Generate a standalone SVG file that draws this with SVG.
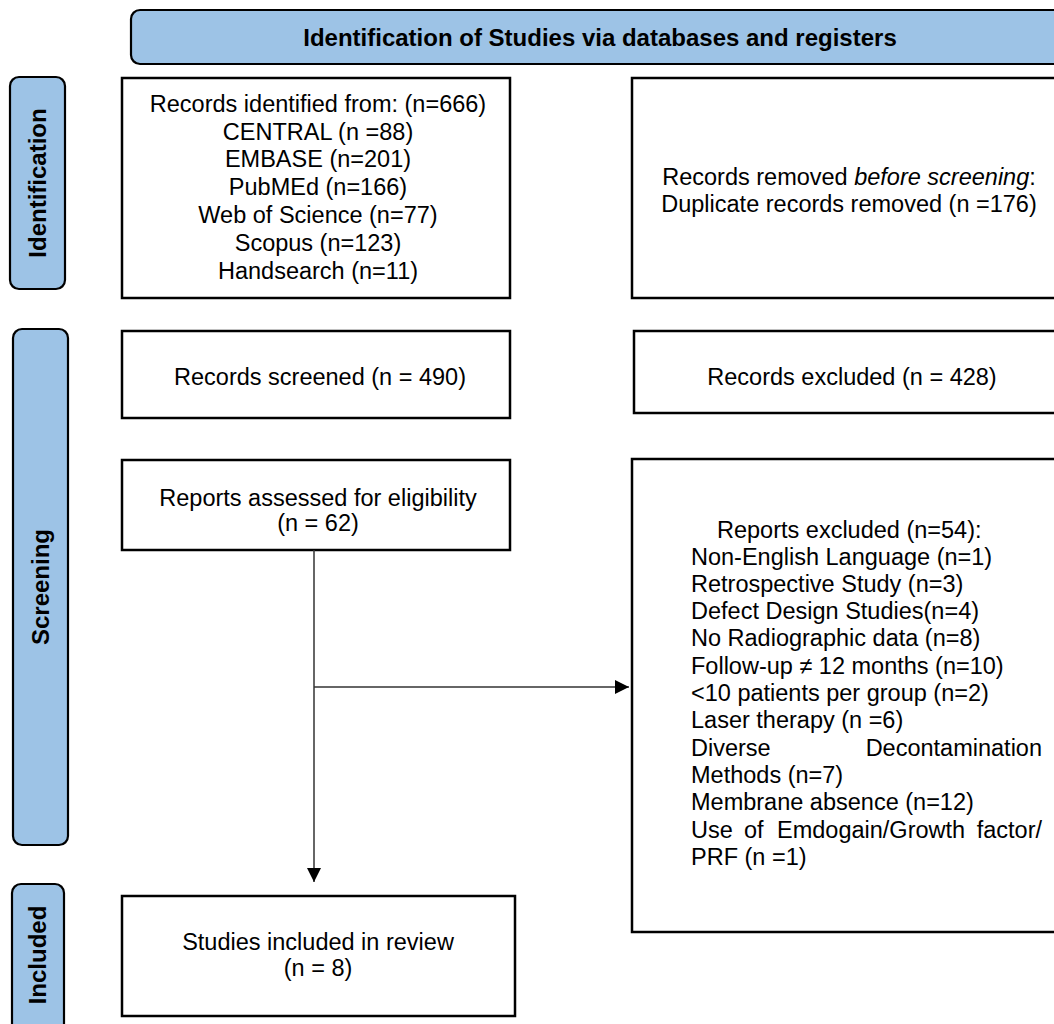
<svg xmlns="http://www.w3.org/2000/svg" width="1054" height="1024" viewBox="0 0 1054 1024">
<defs>
<style>
.lbl{fill:#9DC3E6;stroke:#000;stroke-width:2.2}
.box{fill:#fff;stroke:#000;stroke-width:2.5}
.t{font-family:"Liberation Sans",Arial,sans-serif;font-size:23.5px;fill:#000}
.b{font-family:"Liberation Sans",Arial,sans-serif;font-size:24px;font-weight:bold;fill:#000}
.c{text-anchor:middle}
.ln{stroke:#333;stroke-width:1.5;fill:none}
</style>
<marker id="ah" viewBox="0 0 10 10" refX="10" refY="5" markerWidth="16" markerHeight="14" markerUnits="userSpaceOnUse" orient="auto">
<path d="M0,0 L10,5 L0,10 Z" fill="#000"/>
</marker>
</defs>
<rect width="1054" height="1024" fill="#fff"/>

<g id="header">
<rect class="lbl" x="131" y="10" width="940" height="54" rx="9"/>
<text class="b c" x="600" y="46">Identification of Studies via databases and registers</text>
</g>

<g id="lbl-identification">
<rect class="lbl" x="10" y="77" width="55" height="212" rx="9"/>
<text class="b c" transform="translate(46,183) rotate(-90)">Identification</text>
</g>
<g id="lbl-screening">
<rect class="lbl" x="13" y="329" width="55" height="516" rx="9"/>
<text class="b c" transform="translate(49,587) rotate(-90)">Screening</text>
</g>
<g id="lbl-included">
<rect class="lbl" x="12" y="884" width="52" height="160" rx="9"/>
<text class="b c" transform="translate(46,955) rotate(-90)">Included</text>
</g>

<g id="records-identified">
<rect class="box" x="122" y="78" width="388" height="220"/>
<text class="t c" x="318" y="112">Records identified from: (n=666)</text>
<text class="t c" x="318" y="140">CENTRAL (n =88)</text>
<text class="t c" x="318" y="167">EMBASE (n=201)</text>
<text class="t c" x="318" y="195">PubMEd (n=166)</text>
<text class="t c" x="318" y="223">Web of Science (n=77)</text>
<text class="t c" x="318" y="251">Scopus (n=123)</text>
<text class="t c" x="318" y="279">Handsearch (n=11)</text>
</g>

<g id="records-removed">
<rect class="box" x="632" y="78" width="440" height="220"/>
<text class="t c" x="849" y="185">Records removed <tspan font-style="italic">before screening</tspan>:</text>
<text class="t c" x="849" y="212">Duplicate records removed (n =176)</text>
</g>

<g id="records-screened">
<rect class="box" x="122" y="331" width="388" height="87"/>
<text class="t c" x="320" y="385">Records screened (n = 490)</text>
</g>

<g id="records-excluded">
<rect class="box" x="634" y="331" width="440" height="82"/>
<text class="t c" x="852" y="385">Records excluded (n = 428)</text>
</g>

<g id="reports-assessed">
<rect class="box" x="122" y="460" width="388" height="90"/>
<text class="t c" x="318" y="506">Reports assessed for eligibility</text>
<text class="t c" x="318" y="531">(n = 62)</text>
</g>

<g id="reports-excluded">
<rect class="box" x="632" y="459" width="440" height="473"/>
<text class="t" x="717" y="538">Reports excluded (n=54):</text>
<text class="t" x="691" y="565">Non-English Language (n=1)</text>
<text class="t" x="691" y="592">Retrospective Study (n=3)</text>
<text class="t" x="691" y="619">Defect Design Studies(n=4)</text>
<text class="t" x="691" y="646">No Radiographic data (n=8)</text>
<text class="t" x="691" y="674">Follow-up ≠ 12 months (n=10)</text>
<text class="t" x="691" y="701">&lt;10 patients per group (n=2)</text>
<text class="t" x="691" y="728">Laser therapy (n =6)</text>
<text class="t" x="691" y="756">Diverse</text>
<text class="t" x="1042" y="756" text-anchor="end">Decontamination</text>
<text class="t" x="691" y="783">Methods (n=7)</text>
<text class="t" x="691" y="810">Membrane absence (n=12)</text>
<text class="t" x="691" y="838">Use</text>
<text class="t" x="744" y="838">of</text>
<text class="t" x="777" y="838">Emdogain/Growth</text>
<text class="t" x="1042" y="838" text-anchor="end">factor/</text>
<text class="t" x="691" y="865">PRF (n =1)</text>
</g>

<g id="studies-included">
<rect class="box" x="122" y="896" width="393" height="120"/>
<text class="t c" x="318" y="950">Studies included in review</text>
<text class="t c" x="318" y="976">(n = 8)</text>
</g>

<g id="connectors">
<line class="ln" x1="314" y1="550" x2="314" y2="882" marker-end="url(#ah)"/>
<line class="ln" x1="314" y1="687" x2="629" y2="687" stroke-width="1.2" marker-end="url(#ah)"/>
</g>
</svg>
